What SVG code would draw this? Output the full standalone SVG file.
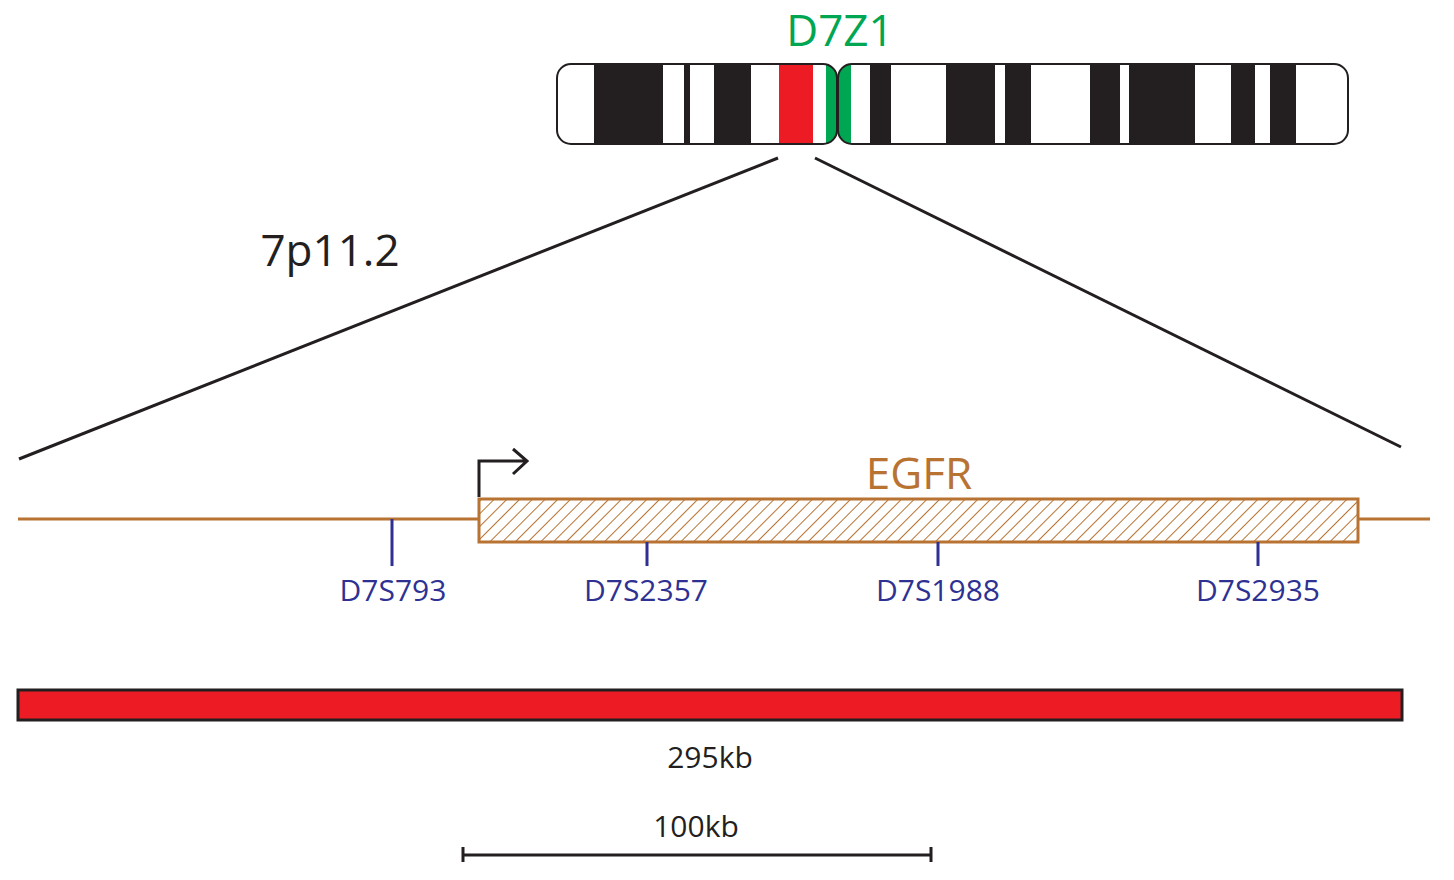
<svg xmlns="http://www.w3.org/2000/svg" width="1454" height="880" viewBox="0 0 1454 880">
<style>
text{font-family:"Open Sans","Liberation Sans",sans-serif}
.blk{fill:#231f20}
.mk{stroke:#2e3192;stroke-width:3}
.ml{fill:#2e3192;font-size:30px;text-anchor:middle}
.ln{stroke:#231f20;stroke-width:3;fill:none}
</style>
<defs>
<pattern id="h" width="9" height="9" patternUnits="userSpaceOnUse" patternTransform="rotate(45)">
<rect width="9" height="9" fill="#fff"/>
<line x1="0" y1="0" x2="0" y2="9" stroke="#b87333" stroke-width="2"/>
</pattern>
<clipPath id="p"><rect x="557" y="64" width="280" height="80" rx="14"/></clipPath>
<clipPath id="q"><rect x="838" y="64" width="510" height="80" rx="14"/></clipPath>
</defs>
<g id="chromosome">
<g clip-path="url(#p)">
<rect x="557" y="64" width="280" height="80" fill="#fff"/>
<rect class="blk" x="594" y="64" width="69" height="80"/>
<rect class="blk" x="684" y="64" width="6" height="82"/>
<rect class="blk" x="714" y="64" width="37" height="80"/>
<rect x="779" y="64" width="34" height="80" fill="#ed1c24"/>
<rect x="826" y="64" width="12" height="80" fill="#00a651"/>
</g>
<g clip-path="url(#q)">
<rect x="838" y="64" width="510" height="80" fill="#fff"/>
<rect x="838" y="64" width="13" height="80" fill="#00a651"/>
<rect class="blk" x="870" y="64" width="21" height="80"/>
<rect class="blk" x="946" y="64" width="49" height="80"/>
<rect class="blk" x="1005" y="64" width="26" height="80"/>
<rect class="blk" x="1090" y="64" width="30" height="80"/>
<rect class="blk" x="1129" y="64" width="66" height="80"/>
<rect class="blk" x="1231" y="64" width="24" height="80"/>
<rect class="blk" x="1270" y="64" width="26" height="82"/>
</g>
<rect x="557" y="64" width="280" height="80" rx="14" fill="none" stroke="#231f20" stroke-width="2"/>
<rect x="838" y="64" width="510" height="80" rx="14" fill="none" stroke="#231f20" stroke-width="2"/>
<text x="840" y="46" font-size="44" fill="#00a651" text-anchor="middle">D7Z1</text>
</g>
<g id="zoom-lines">
<line class="ln" x1="778" y1="158" x2="19" y2="459"/>
<line class="ln" x1="815" y1="158" x2="1401" y2="447"/>
<text x="330" y="266" font-size="44" fill="#231f20" text-anchor="middle">7p11.2</text>
</g>
<g id="gene">
<line x1="18" y1="519" x2="1430" y2="519" stroke="#b87333" stroke-width="3"/>
<rect x="479" y="499" width="879" height="43" fill="url(#h)" stroke="#b87333" stroke-width="3"/>
<path class="ln" d="M479 497 V461 H525 M513 449 L527 461 L513 474"/>
<text x="919" y="489" font-size="44" fill="#b87333" text-anchor="middle">EGFR</text>
</g>
<g id="markers">
<line class="mk" x1="392" y1="519" x2="392" y2="566"/>
<line class="mk" x1="647" y1="542" x2="647" y2="566"/>
<line class="mk" x1="938" y1="542" x2="938" y2="566"/>
<line class="mk" x1="1258" y1="542" x2="1258" y2="566"/>
<text class="ml" x="393" y="601">D7S793</text>
<text class="ml" x="646" y="601">D7S2357</text>
<text class="ml" x="938" y="601">D7S1988</text>
<text class="ml" x="1258" y="601">D7S2935</text>
</g>
<g id="probe">
<rect x="18" y="690" width="1384" height="30" fill="#ed1c24" stroke="#231f20" stroke-width="3"/>
<text x="710" y="768" font-size="30" fill="#231f20" text-anchor="middle">295kb</text>
</g>
<g id="scale">
<path class="ln" d="M463 855 H931 M463 847 V862 M931 847 V862"/>
<text x="696" y="837" font-size="30" fill="#231f20" text-anchor="middle">100kb</text>
</g>
</svg>
